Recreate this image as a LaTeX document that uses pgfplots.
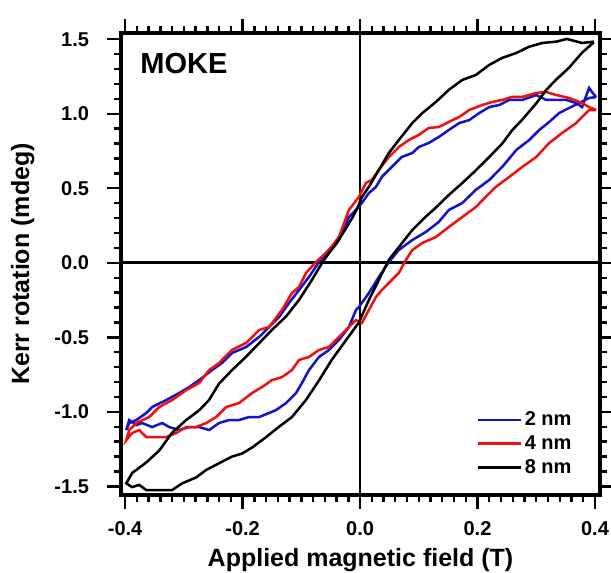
\documentclass[border=0pt]{standalone}
\usepackage{fontspec}
\setmainfont{Liberation Sans}
\usepackage{pgfplots}
\usepackage{pgfplotstable}
\pgfplotsset{compat=1.18}
\definecolor{kblue}{HTML}{1414C8}
\definecolor{kred}{HTML}{EE1111}

% 2 nm: descending branch from +0.4 T, then ascending branch back
\pgfplotstableread{
x y
0.402 1.112
0.396 1.140
0.390 1.173
0.383 1.100
0.378 1.045
0.368 1.072
0.351 1.093
0.334 1.093
0.317 1.093
0.300 1.126
0.276 1.093
0.254 1.093
0.237 1.059
0.220 1.045
0.203 1.005
0.186 0.958
0.169 0.938
0.151 0.891
0.134 0.844
0.117 0.804
0.100 0.777
0.089 0.737
0.071 0.710
0.054 0.643
0.037 0.576
0.027 0.509
0.015 0.468
0.003 0.401
-0.007 0.354
-0.019 0.307
-0.036 0.153
-0.053 0.086
-0.070 0.005
-0.087 -0.095
-0.104 -0.183
-0.121 -0.270
-0.138 -0.364
-0.155 -0.431
-0.172 -0.498
-0.194 -0.565
-0.218 -0.605
-0.235 -0.672
-0.252 -0.720
-0.274 -0.787
-0.291 -0.834
-0.308 -0.874
-0.330 -0.921
-0.354 -0.968
-0.364 -1.008
-0.381 -1.055
-0.393 -1.075
-0.398 -1.122
-0.393 -1.055
-0.381 -1.089
-0.371 -1.075
-0.354 -1.102
-0.337 -1.075
-0.325 -1.102
-0.308 -1.122
-0.291 -1.102
-0.274 -1.102
-0.257 -1.122
-0.240 -1.075
-0.223 -1.055
-0.206 -1.055
-0.189 -1.035
-0.172 -1.035
-0.155 -1.008
-0.143 -0.988
-0.126 -0.941
-0.109 -0.874
-0.099 -0.807
-0.087 -0.720
-0.070 -0.632
-0.053 -0.585
-0.036 -0.518
-0.019 -0.431
-0.007 -0.317
-0.002 -0.297
0.015 -0.203
0.032 -0.095
0.049 0.005
0.066 0.086
0.089 0.153
0.112 0.207
0.134 0.274
0.151 0.354
0.174 0.401
0.197 0.489
0.220 0.556
0.242 0.643
0.266 0.757
0.288 0.824
0.305 0.891
0.322 0.945
0.339 1.005
0.356 1.039
0.373 1.072
0.390 1.106
0.402 1.112
}\twonm

% 4 nm
\pgfplotstableread{
x y
0.402 1.025
0.390 1.045
0.378 1.072
0.356 1.106
0.334 1.126
0.317 1.146
0.300 1.140
0.276 1.113
0.259 1.113
0.242 1.093
0.225 1.079
0.208 1.059
0.186 1.026
0.169 0.979
0.151 0.945
0.134 0.911
0.117 0.905
0.100 0.858
0.083 0.824
0.066 0.777
0.049 0.710
0.032 0.623
0.020 0.556
0.010 0.536
-0.002 0.442
-0.010 0.401
-0.019 0.354
-0.036 0.173
-0.053 0.086
-0.075 0.005
-0.092 -0.068
-0.104 -0.162
-0.116 -0.203
-0.133 -0.317
-0.155 -0.431
-0.172 -0.451
-0.194 -0.538
-0.218 -0.585
-0.240 -0.672
-0.257 -0.720
-0.274 -0.807
-0.296 -0.854
-0.320 -0.921
-0.342 -0.968
-0.359 -1.035
-0.381 -1.075
-0.393 -1.122
-0.398 -1.190
-0.388 -1.142
-0.376 -1.122
-0.364 -1.169
-0.347 -1.169
-0.330 -1.169
-0.313 -1.142
-0.296 -1.102
-0.279 -1.102
-0.262 -1.075
-0.245 -1.035
-0.228 -0.968
-0.206 -0.941
-0.184 -0.874
-0.167 -0.834
-0.150 -0.787
-0.133 -0.767
-0.116 -0.720
-0.104 -0.652
-0.087 -0.632
-0.070 -0.585
-0.053 -0.565
-0.036 -0.498
-0.019 -0.431
-0.007 -0.384
0.003 -0.404
0.015 -0.317
0.027 -0.230
0.037 -0.183
0.054 -0.115
0.066 -0.068
0.078 0.019
0.089 0.086
0.106 0.133
0.129 0.173
0.151 0.240
0.174 0.307
0.197 0.374
0.214 0.442
0.231 0.509
0.254 0.576
0.276 0.643
0.300 0.710
0.322 0.804
0.344 0.871
0.368 0.938
0.378 0.978
0.390 1.025
0.402 1.025
}\fournm

% 8 nm
\pgfplotstableread{
x y
0.398 1.484
0.378 1.475
0.352 1.502
0.334 1.484
0.310 1.475
0.288 1.450
0.266 1.408
0.242 1.375
0.220 1.328
0.197 1.260
0.174 1.227
0.151 1.160
0.129 1.079
0.106 1.005
0.089 0.938
0.066 0.824
0.049 0.737
0.032 0.623
0.015 0.509
0.003 0.441
-0.002 0.390
-0.012 0.310
-0.025 0.225
-0.040 0.130
-0.052 0.070
-0.063 0.010
-0.082 -0.115
-0.104 -0.250
-0.126 -0.360
-0.150 -0.450
-0.172 -0.540
-0.194 -0.630
-0.218 -0.720
-0.240 -0.810
-0.257 -0.920
-0.274 -0.990
-0.296 -1.055
-0.320 -1.140
-0.342 -1.260
-0.364 -1.340
-0.388 -1.410
-0.398 -1.480
-0.388 -1.505
-0.376 -1.490
-0.364 -1.525
-0.342 -1.525
-0.320 -1.525
-0.303 -1.480
-0.279 -1.440
-0.262 -1.390
-0.240 -1.345
-0.218 -1.300
-0.201 -1.280
-0.184 -1.240
-0.160 -1.170
-0.138 -1.100
-0.116 -1.035
-0.092 -0.920
-0.070 -0.790
-0.048 -0.650
-0.024 -0.520
-0.002 -0.400
0.015 -0.250
0.032 -0.115
0.049 0.020
0.071 0.130
0.089 0.220
0.112 0.310
0.129 0.370
0.151 0.455
0.174 0.535
0.197 0.620
0.220 0.710
0.242 0.800
0.259 0.890
0.276 0.960
0.300 1.070
0.317 1.160
0.334 1.230
0.356 1.310
0.378 1.410
0.398 1.480
}\eightnm

\begin{document}
\begin{tikzpicture}
\begin{axis}[
    width=359.25pt, height=346.5pt, scale only axis,
    xmin=-0.407, xmax=0.4085, ymin=-1.558, ymax=1.542,
    axis line style={line width=2.4pt},
    xtick={-0.4,-0.2,0,0.2,0.4}, minor x tick num=9,
    ytick={-1.5,-1,-0.5,0,0.5,1,1.5}, minor y tick num=4,
    tick align=outside,
    major tick length=10.5pt, minor tick length=5.5pt,
    tick style={black, line width=1.8pt},
    tick label style={font=\fontsize{15}{18}\selectfont\bfseries},
    xticklabel style={yshift=-6pt},
    yticklabel style={xshift=-10pt},
    /pgf/number format/fixed,
    /pgf/number format/fixed zerofill,
    /pgf/number format/precision=1,
    /pgf/number format/assume math mode=true,
    xlabel={Applied magnetic field (T)},
    ylabel={Kerr rotation (mdeg)},
    label style={font=\fontsize{18.75}{22}\selectfont\bfseries},
    xlabel style={at={(axis description cs:0.5,0)}, anchor=base, yshift=-53.25pt},
    ylabel style={at={(axis description cs:-0.192,0.5)}, anchor=base},
    legend style={at={(rel axis cs:0.955,0.03)}, anchor=south east,
        draw=none, fill=none, font=\fontsize{15}{18}\selectfont\bfseries,
        row sep=2pt},
    legend cell align=left,
    legend image code/.code={\draw[#1] (0pt,0pt) -- (32pt,0pt);},
]
  % zero lines through the origin
  \draw[line width=2.1pt] (axis cs:0,-1.558) -- (axis cs:0,1.542);
  \draw[line width=2.1pt] (axis cs:-0.407,0) -- (axis cs:0.4085,0);

  \addplot[kblue, line width=1.9pt] table[x=x, y=y] {\twonm};
  \addlegendentry{2 nm}
  \addplot[kred, line width=1.9pt] table[x=x, y=y] {\fournm};
  \addlegendentry{4 nm}
  \addplot[black, line width=1.9pt] table[x=x, y=y] {\eightnm};
  \addlegendentry{8 nm}

  \node[anchor=base west, inner sep=0pt, font=\fontsize{21.75}{26}\selectfont\bfseries]
    at (rel axis cs:0.04,0.913) {MOKE};
\end{axis}
\pgfresetboundingbox
\path[use as bounding box] (-90.75pt,-57.75pt) rectangle (367.5pt,371.25pt);
\end{tikzpicture}
\end{document}
